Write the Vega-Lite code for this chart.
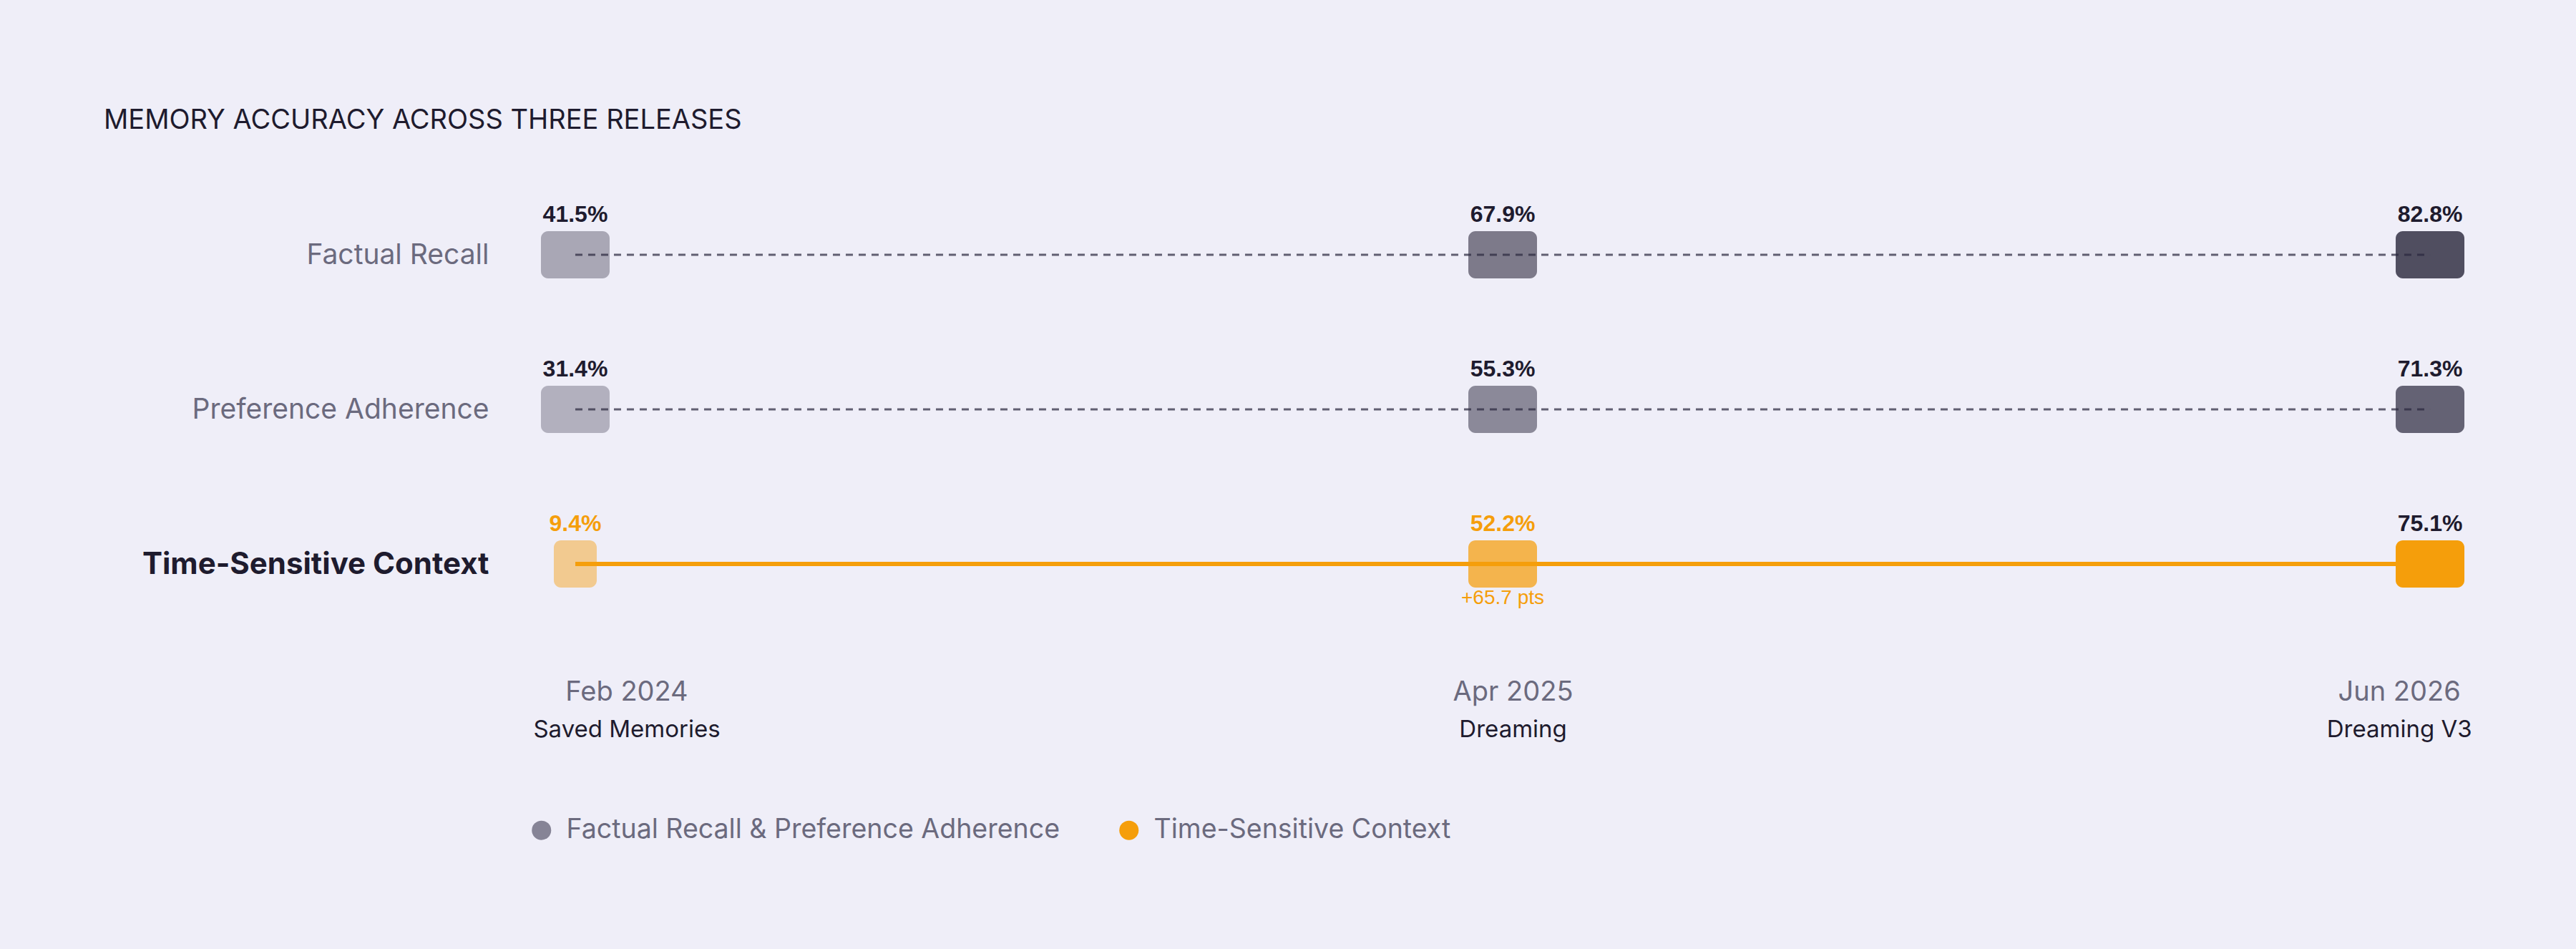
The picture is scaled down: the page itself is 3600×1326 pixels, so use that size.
{
  "$schema": "https://vega.github.io/schema/vega-lite/v6.json",
  "autosize": {"type": "none"},
  "width": 2710,
  "height": 648,
  "padding": {"left": 745, "top": 248, "right": 145, "bottom": 430},
  "background": "#efeef8",
  "config": {"view": {"stroke": null}, "font": "Inter"},
  "title": {
    "text": "MEMORY ACCURACY ACROSS THREE RELEASES",
    "anchor": "start",
    "frame": "group",
    "font": "Inter",
    "fontSize": 38,
    "fontWeight": 400,
    "color": "#1e1b2e",
    "baseline": "alphabetic",
    "offset": 30,
    "dx": -600
  },
  "data": {
    "values": [
      {"metric": "Factual Recall", "group": "Factual Recall & Preference Adherence", "release": "Saved Memories", "date": "Feb 2024", "value": 0.415},
      {"metric": "Factual Recall", "group": "Factual Recall & Preference Adherence", "release": "Dreaming", "date": "Apr 2025", "value": 0.679},
      {"metric": "Factual Recall", "group": "Factual Recall & Preference Adherence", "release": "Dreaming V3", "date": "Jun 2026", "value": 0.828},
      {"metric": "Preference Adherence", "group": "Factual Recall & Preference Adherence", "release": "Saved Memories", "date": "Feb 2024", "value": 0.314},
      {"metric": "Preference Adherence", "group": "Factual Recall & Preference Adherence", "release": "Dreaming", "date": "Apr 2025", "value": 0.553},
      {"metric": "Preference Adherence", "group": "Factual Recall & Preference Adherence", "release": "Dreaming V3", "date": "Jun 2026", "value": 0.713},
      {"metric": "Time-Sensitive Context", "group": "Time-Sensitive Context", "release": "Saved Memories", "date": "Feb 2024", "value": 0.094},
      {"metric": "Time-Sensitive Context", "group": "Time-Sensitive Context", "release": "Dreaming", "date": "Apr 2025", "value": 0.522, "note": "+65.7 pts"},
      {"metric": "Time-Sensitive Context", "group": "Time-Sensitive Context", "release": "Dreaming V3", "date": "Jun 2026", "value": 0.751}
    ]
  },
  "encoding": {
    "y": {
      "field": "metric",
      "type": "nominal",
      "scale": {"type": "point", "domain": ["Factual Recall", "Preference Adherence", "Time-Sensitive Context"], "padding": 0.5},
      "axis": {
        "title": null,
        "domain": false,
        "ticks": false,
        "grid": false,
        "labelPadding": 62,
        "labelLimit": 1000,
        "labelFont": "Inter",
        "labelBaseline": "middle",
        "labelFontSize": {"condition": {"test": "datum.value === 'Time-Sensitive Context'", "value": 42}, "value": 39},
        "labelFontWeight": {"condition": {"test": "datum.value === 'Time-Sensitive Context'", "value": 700}, "value": 400},
        "labelColor": {"condition": {"test": "datum.value === 'Time-Sensitive Context'", "value": "#1e1b2e"}, "value": "#6b6a7e"}
      }
    }
  },
  "layer": [
    {
      "mark": {"type": "rect", "cornerRadius": 10, "width": {"expr": "datum.value < 0.2 ? 60 : 96"}, "height": 66},
      "encoding": {
        "x": {"field": "release", "type": "nominal", "scale": {"type": "point", "domain": ["Saved Memories", "Dreaming", "Dreaming V3"], "padding": 0.0455}, "axis": null},
        "fill": {"field": "metric", "type": "nominal", "scale": {"domain": ["Factual Recall", "Preference Adherence", "Time-Sensitive Context"], "range": ["#504e60", "#646274", "#f59e0b"]}, "legend": null},
        "opacity": {"field": "release", "type": "ordinal", "scale": {"type": "point", "domain": ["Saved Memories", "Dreaming", "Dreaming V3"], "range": [0.44, 1]}, "legend": null}
      }
    },
    {
      "mark": {"type": "line"},
      "encoding": {
        "x": {"field": "release", "type": "nominal", "scale": {"type": "point", "domain": ["Saved Memories", "Dreaming", "Dreaming V3"], "padding": 0.0455}, "axis": null},
        "detail": {"field": "metric"},
        "order": {"value": null},
        "color": {
          "field": "group",
          "type": "nominal",
          "scale": {"domain": ["Factual Recall & Preference Adherence", "Time-Sensitive Context"], "range": ["#2a283e", "#f59e0b"]},
          "legend": {
            "title": null,
            "orient": "none",
            "legendX": -7,
            "legendY": 893,
            "direction": "horizontal",
            "padding": 0,
            "symbolType": "circle",
            "symbolSize": 729,
            "symbolStrokeWidth": 0,
            "labelFont": "Inter",
            "labelFontSize": 37.5,
            "labelColor": "#6b6a7e",
            "labelOffset": 16,
            "columnPadding": 77,
            "labelLimit": 2000,
            "encode": {
              "symbols": {
                "update": {
                  "fill": {"signal": "datum.value === 'Time-Sensitive Context' ? '#f59e0b' : '#868496'"},
                  "stroke": {"value": "transparent"},
                  "opacity": {"value": 1}
                }
              }
            }
          }
        },
        "strokeDash": {"condition": {"test": "datum.group === 'Time-Sensitive Context'", "value": [1, 0]}, "value": [10, 8]},
        "strokeWidth": {"condition": {"test": "datum.group === 'Time-Sensitive Context'", "value": 6}, "value": 3},
        "strokeOpacity": {"condition": {"test": "datum.group === 'Time-Sensitive Context'", "value": 1}, "value": 0.72}
      }
    },
    {
      "mark": {"type": "text", "dy": -46, "baseline": "alphabetic", "font": "Liberation Sans", "fontWeight": "bold", "fontSize": 32},
      "encoding": {
        "x": {"field": "release", "type": "nominal", "scale": {"type": "point", "domain": ["Saved Memories", "Dreaming", "Dreaming V3"], "padding": 0.0455}, "axis": null},
        "text": {"field": "value", "type": "quantitative", "format": ".1%"},
        "color": {"condition": {"test": "datum.group === 'Time-Sensitive Context' && datum.release !== 'Dreaming V3'", "value": "#f59e0b"}, "value": "#1e1b2e"}
      }
    },
    {
      "transform": [{"filter": "isValid(datum.note)"}],
      "mark": {"type": "text", "dy": 56, "baseline": "alphabetic", "font": "Liberation Sans", "fontSize": 28, "color": "#f59e0b"},
      "encoding": {
        "x": {"field": "release", "type": "nominal", "scale": {"type": "point", "domain": ["Saved Memories", "Dreaming", "Dreaming V3"], "padding": 0.0455}, "axis": null},
        "text": {"field": "note"}
      }
    },
    {
      "transform": [{"filter": "datum.metric === 'Time-Sensitive Context'"}],
      "mark": {"type": "text", "dy": 191, "baseline": "alphabetic", "font": "Inter", "fontSize": 38, "color": "#6b6a7e"},
      "encoding": {
        "x": {"field": "release", "type": "nominal", "scale": {"type": "point", "domain": ["Saved Memories", "Dreaming", "Dreaming V3"], "padding": 0.094, "align": 0.5626}, "axis": null},
        "text": {"field": "date"}
      }
    },
    {
      "transform": [{"filter": "datum.metric === 'Time-Sensitive Context'"}],
      "mark": {"type": "text", "dy": 242, "baseline": "alphabetic", "font": "Inter", "fontSize": 33, "color": "#1e1b2e"},
      "encoding": {
        "x": {"field": "release", "type": "nominal", "scale": {"type": "point", "domain": ["Saved Memories", "Dreaming", "Dreaming V3"], "padding": 0.094, "align": 0.5626}, "axis": null},
        "text": {"field": "release"}
      }
    }
  ],
  "resolve": {"scale": {"x": "independent"}}
}
